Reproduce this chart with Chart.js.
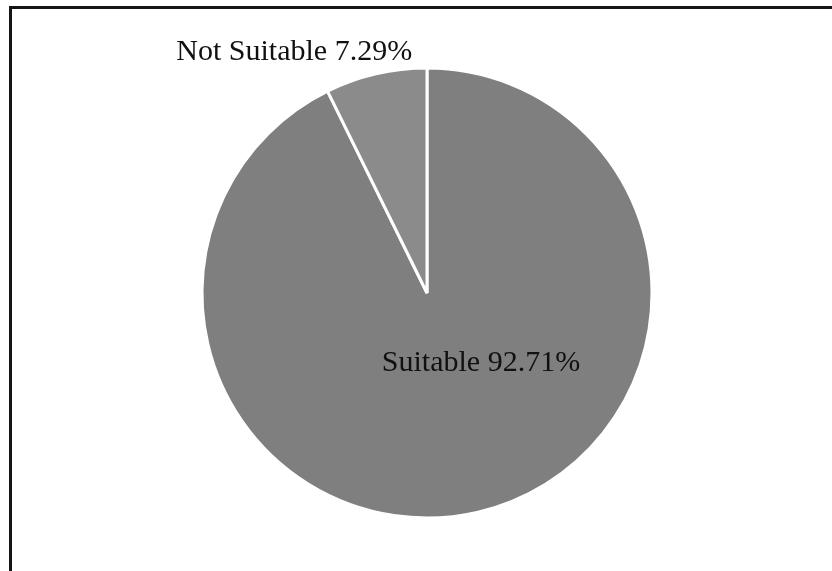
<!DOCTYPE html>
<html lang="en">
<head>
    <meta charset="UTF-8">
    <title>Suitability pie</title>
<script src="https://cdn.jsdelivr.net/npm/chart.js@4.4.0/dist/chart.umd.min.js"></script>
<style>
    body { margin:0; background:#fff; overflow:hidden; }
    #wrap { position:relative; width:832px; height:571px; }
    #frame { position:absolute; left:9px; top:6px; width:840px; height:600px;
             border-top:3px solid #151515; border-left:3px solid #151515; }
</style>
</head>
<body>
    <div id="wrap">
        <div id="frame"></div>
        <canvas id="myChart"></canvas>
    </div>
<script>
    // data
    var categories = ["Suitable", "Not Suitable"];
    var shares = [92.71, 7.29];
    var sliceColors = ["#7f7f7f", "#8b8b8b"];

    // label position relative to pie center, in units of radius
    var labelSpots = [[0.24, 0.31], [-0.59, -1.07]];

    var labelPlugin = {
        id: "sliceLabels",
        afterDatasetsDraw: function(chart) {
            var ctx = chart.ctx;
            var arcs = chart.getDatasetMeta(0).data;
            ctx.save();
            ctx.font = "30px 'Liberation Serif', 'Times New Roman', serif";
            ctx.fillStyle = "#111";
            ctx.textAlign = "center";
            ctx.textBaseline = "middle";
            arcs.forEach(function(arc, i) {
                var r = arc.outerRadius;
                var txt = categories[i] + " " + shares[i].toFixed(2) + "%";
                ctx.fillText(txt, arc.x + labelSpots[i][0] * r, arc.y + labelSpots[i][1] * r);
            });
            ctx.restore();
        }
    };

const ctx = document.getElementById('myChart').getContext('2d');
const myChart = new Chart(ctx, {
    type: 'pie',
    data: {
        labels: categories,
        datasets: [{
            data: shares,
            backgroundColor: sliceColors,
            borderColor: "#ffffff",
            borderWidth: 3
        }]
    },
    options: {
        responsive: true,
        maintainAspectRatio: false,
        animation: false,
        radius: 225,
        layout: { padding: { left: 40, right: 18, top: 30, bottom: 15 } },
        plugins: {
            legend: { display: false },
            tooltip: { enabled: false }
        }
    },
    plugins: [labelPlugin]
});
</script>
</body>
</html>
